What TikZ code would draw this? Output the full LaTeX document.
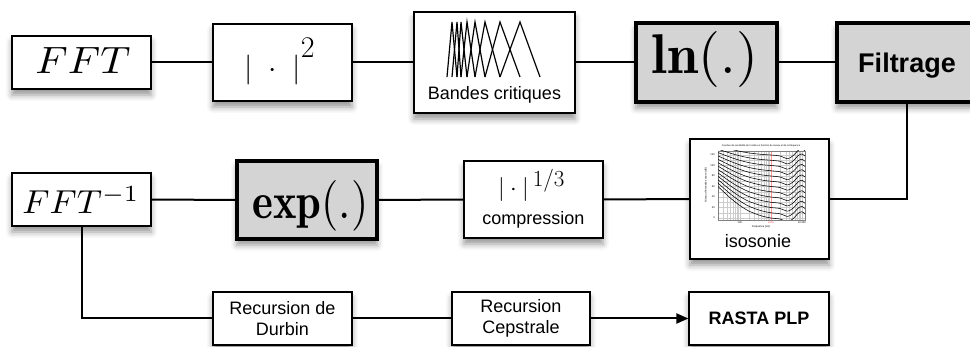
\documentclass[tikz,border=0pt]{standalone}
\usepackage{fontspec}
\usepackage{graphicx}
\newfontfamily\hel{Liberation Sans}
\usetikzlibrary{arrows.meta,shadows.blur}
\begin{document}
\begin{tikzpicture}[x=1pt,y=-1pt,
  box/.style={draw, line width=1.2pt, fill=white, inner sep=0pt, minimum width=139pt,
    blur shadow={shadow xshift=0pt, shadow yshift=-6pt, shadow blur radius=6pt, shadow opacity=42}},
  heavy/.style={box, line width=3.6pt, fill=black!17},
  conn/.style={line width=2pt},
  txt/.style={inner sep=0pt, anchor=base},
  lbl/.style={font=\hel\fontsize{18}{21}\selectfont, inner sep=0pt, align=center},
  tiny/.style={font=\hel\fontsize{2.6}{3}\selectfont, inner sep=0pt},
  band/.style={line width=1.2pt, line join=miter}]
\useasboundingbox (0,0) rectangle (970,347);
\clip (0,0) rectangle (970,347);

% ---- row 1 boxes
\node[box, minimum height=53pt] (fft) at (81.5,62.5) {};
\node[box, minimum height=77pt] (sq) at (282.5,62.5) {};
\node[box, minimum width=161pt, minimum height=101pt] (bands) at (494.5,62.5) {};
\node[heavy, minimum width=141pt, minimum height=79pt] (ln) at (706.5,62.5) {};
\node[heavy, minimum width=140pt, minimum height=79pt] (filt) at (907,62.5) {};
% ---- row 2 boxes
\node[box, minimum height=53pt] (ifft) at (81.5,199.5) {};
\node[heavy, minimum width=140pt, minimum height=78pt] (exp) at (307,200) {};
\node[box, minimum height=77pt] (comp) at (533.5,199.5) {};
\node[box, minimum height=120pt] (iso) at (759.5,199) {};
% ---- row 3 boxes
\node[box, lbl, minimum height=53pt] (durbin) at (282.5,318.5) {Recursion de\\Durbin};
\node[box, lbl, minimum width=138pt, minimum height=53pt] (cep) at (521,318.5) {Recursion\\Cepstrale};
\node[box, lbl, font=\hel\bfseries\fontsize{18}{21}\selectfont, minimum width=140pt, minimum height=53pt] (rasta) at (759,318.5) {RASTA PLP};

% ---- texts
\node[txt] (tfft) at (83,74) {\resizebox{95pt}{26pt}{$FFT$}};
\node[txt] (tsq) at (279.5,78) {\scalebox{3.0}{$|\hspace{3pt}\cdot\hspace{3pt}|$}\raisebox{20pt}{\fontsize{30}{30}\selectfont 2}};
\node[txt, font=\hel\fontsize{18}{21}\selectfont] (tbands) at (494.5,100) {Bandes critiques};
\node[txt] (tln) at (705,74) {\resizebox{106pt}{42pt}{$\mathbf{ln}(.)$}};
\node[txt, font=\hel\bfseries\fontsize{27}{30}\selectfont] (tfilt) at (907,73) {Filtrage};
\node[txt] (tifft) at (81,214) {\resizebox{117pt}{27pt}{$FFT^{-1}$}};
\node[txt] (texp) at (310.5,219) {\resizebox{116pt}{38pt}{$\mathbf{exp}(.)$}};
\node[txt] (tcube) at (531.3,196) {\scalebox{2.4}{$|\cdot|$}\kern4pt\raisebox{9pt}{\fontsize{23}{23}\selectfont 1/3}};
\node[txt, font=\hel\fontsize{18}{21}\selectfont] (tcomp) at (533.5,225) {compression};
\node[txt, font=\hel\fontsize{18}{21}\selectfont] (tiso) at (758,248) {isosonie};

% ---- critical bands icon
\foreach \a/\b/\c in {447/452/457, 452/457/461, 457/461/467, 461/467/475, 467/475/485, 475/485/500, 485/500/520, 500/520/540}
  \draw[band] (\a,77) -- (\b,22) -- (\c,77);

% ---- isosonie chart
\foreach \f in {20,30,40,50,60,70,80,90,100,200,300,400,500,600,700,800,900,1000,2000,3000,4000,5000,6000,7000,8000,9000,10000}
  \draw[gray!40, line width=0.2pt] ({718+87*(log10(\f)-1.3)/2.8},151) -- ({718+87*(log10(\f)-1.3)/2.8},220);
\foreach \d in {0,10,...,120}
  \draw[gray!40, line width=0.2pt] (718,{218-0.525*\d}) -- (805,{218-0.525*\d});
\draw[red!40, line width=0.5pt] ({718+87*0.607},151) -- ({718+87*0.607},220);
\draw[gray, line width=0.3pt] (718,151) rectangle (805,220);
\begin{scope}
\clip (718,151) rectangle (805,220);
\foreach \L in {0,10,...,120}
  \draw[line width=0.55pt] plot[smooth] coordinates {
    (718,{218-0.525*(\L+60*(1-\L/170))})
    ({718+87*0.1425},{218-0.525*(\L+38*(1-\L/170))})
    ({718+87*0.25},{218-0.525*(\L+24*(1-\L/170))})
    ({718+87*0.3575},{218-0.525*(\L+13*(1-\L/170))})
    ({718+87*0.4996},{218-0.525*(\L+4*(1-\L/170))})
    ({718+87*0.607},{218-0.525*(\L)})
    ({718+87*0.714},{218-0.525*(\L-2)})
    ({718+87*0.8},{218-0.525*(\L-7)})
    ({718+87*0.857},{218-0.525*(\L-2)})
    ({718+87*0.93},{218-0.525*(\L+10)})
    ({718+87*0.964},{218-0.525*(\L+12)})
    (805,{218-0.525*(\L+8)})};
\end{scope}
\foreach \d in {0,20,...,120}
  \node[tiny, anchor=east] (yl\d) at (715,{218-0.525*\d}) {\d};
\node[tiny, anchor=north] (xl1) at ({718+87*0.25},221.5) {100};
\node[tiny, anchor=north, text=red!70] (xl2) at ({718+87*0.607},221.5) {1000};
\node[tiny, anchor=north] (xl3) at ({718+87*0.964},221.5) {10 000};
\node[tiny] (xlab) at (761,227) {Fréquence (Hz)};
\node[tiny, rotate=90] (ylab) at (706,185) {Niveau d'intensité sonore (dB)};
\node[tiny, font=\hel\fontsize{2.4}{3}\selectfont] (ctitle) at (761,146) {Courbes de sensibilité de l'oreille en fonction du niveau et de la fréquence};

% ---- connectors
\draw[conn] (fft.east) -- (sq.west);
\draw[conn] (sq.east) -- (bands.west);
\draw[conn] (bands.east) -- (ln.west);
\draw[conn] (ln.east) -- (filt.west);
\draw[conn] (filt.south) |- (iso.east);
\draw[conn] (iso.west) -- (comp.east);
\draw[conn] (comp.west) -- (exp.east);
\draw[conn] (exp.west) -- (ifft.east);
\draw[conn] (ifft.south) |- (durbin.west);
\draw[conn] (durbin.east) -- (cep.west);
\draw[conn, -{Triangle[length=12pt,width=10pt]}] (cep.east) -- (rasta.west);
\end{tikzpicture}
\end{document}
